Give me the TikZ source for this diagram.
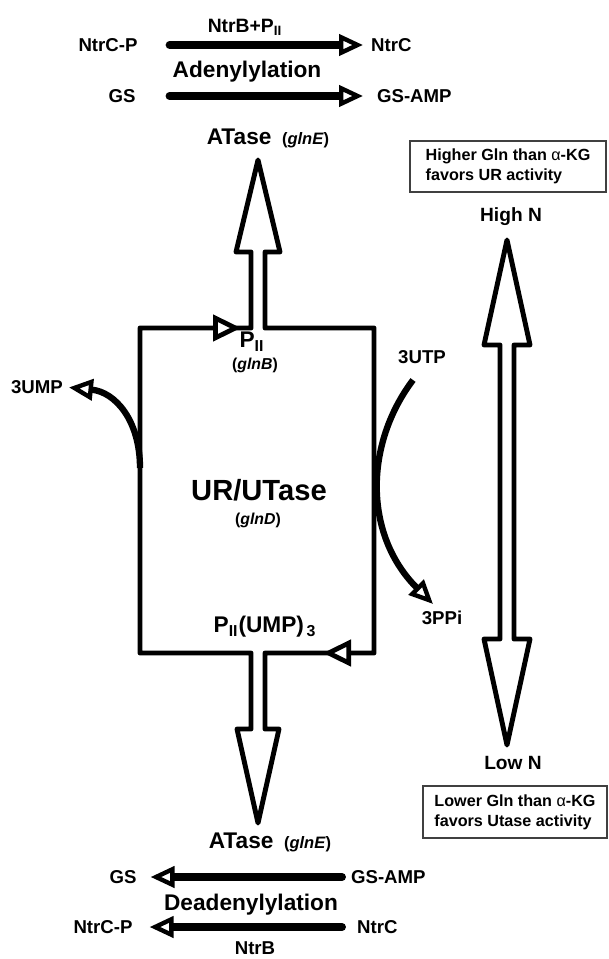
\documentclass[tikz,border=0pt]{standalone}
\usepackage{fontspec}
\setmainfont{Liberation Sans}
\usetikzlibrary{arrows.meta}
\newcommand{\setfs}[1]{\fontsize{#1}{#1}\selectfont}

\begin{document}
\begin{tikzpicture}[x=0.02cm,y=-0.02cm,
  lbl/.style={font=\setfs{10.6}\bfseries,inner sep=1pt},
  enz/.style={font=\setfs{11}\bfseries,inner sep=1pt},
  proc/.style={font=\setfs{12.9}\bfseries,inner sep=1pt},
  gene/.style={font=\setfs{9}\bfseries,inner sep=1pt},
  title/.style={font=\setfs{16.6}\bfseries,inner sep=1pt},
  note/.style={draw=black!75,line width=0.9pt,align=left,font=\fontsize{9.2}{11.3}\selectfont\bfseries,minimum height=1.03cm},
  outline/.style={line width=2.8pt,line join=round},
  curve/.style={line width=3.6pt,-{Triangle[fill=white,length=0.48cm,width=0.42cm,line width=2.5pt]}},
  bigtip/.style={-{Triangle[fill=white,length=0.56cm,width=0.52cm,line width=2.7pt]}},
  rxn/.style={line width=4.5pt,line cap=round,-{Triangle[fill=white,length=0.48cm,width=0.42cm,line width=2.5pt]}}]
  \useasboundingbox (0,0) rectangle (608,959);

  % adenylylation at the top
  \node[lbl] (ntrcp) at (108,45) {NtrC-P};
  \node[lbl,anchor=west] (ntrc) at (369,45) {NtrC};
  \node[enz] (ntrbp) at (245,27) {NtrB+P\textsubscript{II}};
  \node[proc] (adenyl) at (247,72) {Adenylylation};
  \node[lbl] (gs) at (122,96) {GS};
  \node[lbl,anchor=west] (gsamp) at (375,96) {GS-AMP};
  \draw[rxn,shorten <=0.6cm,shorten >=0.12cm] (ntrcp) -- (ntrc);
  \draw[rxn,shorten <=0.64cm,shorten >=0.24cm] (gs) -- (gsamp);

  \node[proc] (atasetop) at (268,138) {ATase\hspace{6pt}{\setfs{9.4}(\textit{glnE})}};

  % UR/UTase box with the two PII arrows
  \draw[outline] (251,328) -- (251,252) -- (236,252) -- (258,160) -- (280,252) -- (265,252)
    -- (265,328) -- (374,328) -- (374,653) -- (265,653) -- (265,729) -- (279,729)
    -- (258,823) -- (237,729) -- (251,729) -- (251,653) -- (140,653) -- (140,328) -- cycle;
  \coordinate (topin) at (195,328);
  \coordinate (topat) at (241,328);
  \coordinate (botin) at (370,653);
  \coordinate (botat) at (323,653);
  \draw[outline,bigtip] (topin) -- (topat);
  \draw[outline,bigtip] (botin) -- (botat);

  \node[proc] (pii) at (252,342) {P\textsubscript{II}};
  \node[gene] (glnb) at (255,365) {(\textit{glnB})};
  \node[title] (urutase) at (259,490) {UR/UTase};
  \node[gene] (glnd) at (258,520) {(\textit{glnD})};
  \node[proc] (piiump) at (265,627) {P\textsubscript{II}(UMP)\textsubscript{\,3}};

  % uridylylation side arrows
  \node[lbl] (ump) at (37,387) {3UMP};
  \coordinate (umpout) at (140,468);
  \draw[curve,shorten >=0.08cm] (umpout) .. controls (140,420) and (115,392) .. (ump.east);
  \node[lbl] (utp) at (422,357) {3UTP};
  \node[lbl] (ppi) at (442,618) {3PPi};
  \coordinate (utpin) at (413,380);
  \coordinate (ppiat) at (433,604);
  \draw[curve] (utpin) .. controls (364,445) and (364,535) .. (ppiat);

  % nitrogen status
  \node[note,minimum width=3.92cm] (hibox) at (508,166.5) {Higher Gln than {\mdseries α}-KG\\favors UR activity};
  \node[lbl,font=\setfs{10.9}\bfseries] (highn) at (511,217) {High N};
  \draw[outline] (507,240) -- (530,345) -- (514,345) -- (514,639) -- (530,639) -- (507,745)
    -- (484,639) -- (500,639) -- (500,345) -- (484,345) -- cycle;
  \node[lbl,font=\setfs{10.9}\bfseries] (lown) at (513,763) {Low N};
  \node[note,minimum width=3.68cm] (lobox) at (515,812) {Lower Gln than {\mdseries α}-KG\\favors Utase activity};

  % deadenylylation at the bottom
  \node[proc] (atasebot) at (270,842) {ATase\hspace{6pt}{\setfs{9.4}(\textit{glnE})}};
  \node[lbl] (gsb) at (123,877) {GS};
  \node[lbl,anchor=west] (gsampb) at (349,877) {GS-AMP};
  \node[proc] (deadenyl) at (251,905) {Deadenylylation};
  \node[lbl] (ntrcpb) at (103,927) {NtrC-P};
  \node[lbl,anchor=west] (ntrcb) at (355,927) {NtrC};
  \node[lbl] (ntrb) at (255,948) {NtrB};
  \draw[rxn,shorten <=0.14cm,shorten >=0.24cm] (gsampb) -- (gsb);
  \draw[rxn,shorten <=0.26cm,shorten >=0.3cm] (ntrcb) -- (ntrcpb);
\end{tikzpicture}
\end{document}
